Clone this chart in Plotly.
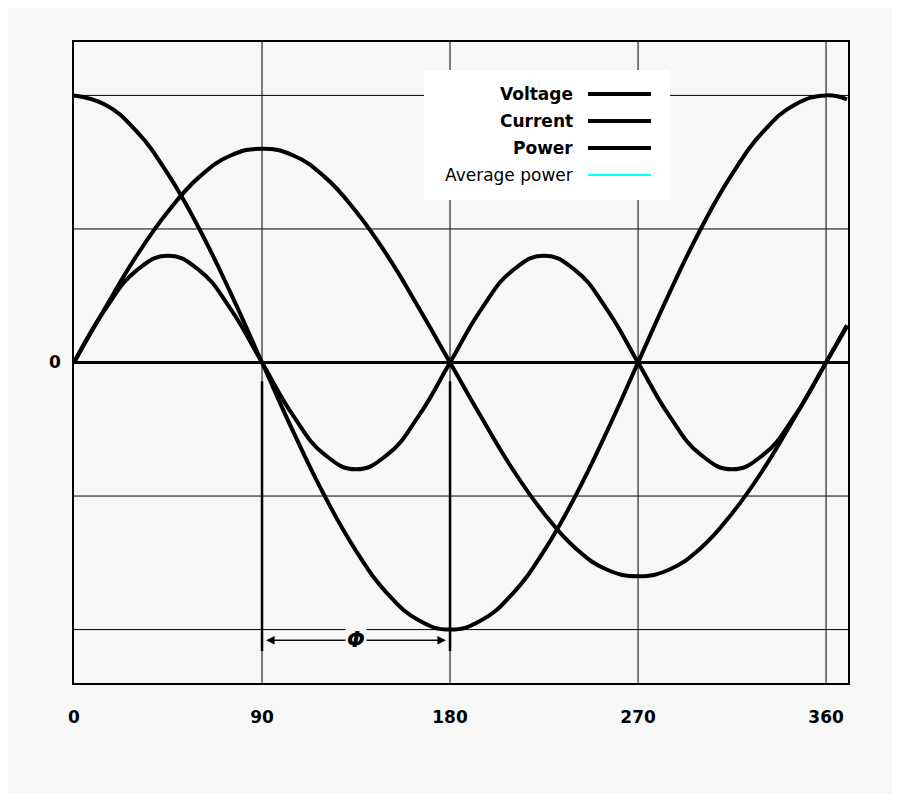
import plotly.graph_objects as go

# angles in degrees (sampled every 15 deg, plus right edge)
angle = list(range(0, 361, 15)) + [370]
voltage = [2, 1.93, 1.73, 1.41, 1.0, 0.52, 0, -0.52, -1, -1.41, -1.73, -1.93, -2,
           -1.93, -1.73, -1.41, -1, -0.52, 0, 0.52, 1, 1.41, 1.73, 1.93, 2, 1.97]
current = [0, 0.41, 0.8, 1.13, 1.39, 1.55, 1.6, 1.55, 1.39, 1.13, 0.8, 0.41, 0,
           -0.41, -0.8, -1.13, -1.39, -1.55, -1.6, -1.55, -1.39, -1.13, -0.8, -0.41, 0, 0.28]
power = [0, 0.4, 0.69, 0.8, 0.69, 0.4, 0, -0.4, -0.69, -0.8, -0.69, -0.4, 0,
         0.4, 0.69, 0.8, 0.69, 0.4, 0, -0.4, -0.69, -0.8, -0.69, -0.4, 0, 0.27]
x_ticks = [0, 90, 180, 270, 360]
y_grid = [-2, -1, 1, 2]
legend_names = ["Voltage", "Current", "Power", "Average power"]
legend_colors = ["black", "black", "black", "cyan"]

fig = go.Figure()
for y in (voltage, current, power):
    fig.add_trace(go.Scatter(x=angle, y=y, mode="lines",
                             line=dict(color="black", width=4, shape="spline", smoothing=1.3),
                             showlegend=False, hoverinfo="skip"))

shapes = []
for g in y_grid:
    shapes.append(dict(type="line", xref="x", yref="y", x0=0, x1=370.5, y0=g, y1=g,
                       line=dict(color="black", width=1), layer="below"))
for t in x_ticks[1:]:
    shapes.append(dict(type="line", xref="x", yref="y", x0=t, x1=t, y0=-2.4, y1=2.4,
                       line=dict(color="black", width=1), layer="below"))
shapes.append(dict(type="line", xref="x", yref="y", x0=0, x1=370.5, y0=0, y1=0,
                   line=dict(color="black", width=3)))
for t in (90, 180):
    shapes.append(dict(type="line", xref="x", yref="y", x0=t, x1=t, y0=-0.14, y1=-2.16,
                       line=dict(color="black", width=2.5)))
# legend box
shapes.append(dict(type="rect", xref="paper", yref="paper", x0=(424-74)/774, x1=(670-74)/774,
                   y0=(683-200)/641, y1=(683-70)/641, fillcolor="white", line=dict(width=0)))

annotations = []
for i, (n, c) in enumerate(zip(legend_names, legend_colors)):
    ypx = 94 + i * 27
    yp = (683 - ypx) / 641
    shapes.append(dict(type="line", xref="paper", yref="paper", x0=(588-74)/774, x1=(651-74)/774,
                       y0=yp, y1=yp, line=dict(color=c, width=4 if c == "black" else 2)))
    annotations.append(dict(xref="paper", yref="paper", x=(575-74)/774, y=yp, xanchor="right",
                            yanchor="middle", showarrow=False,
                            text=("<b>%s</b>" % n) if c == "black" else n,
                            font=dict(size=17, color="black")))

# phase arrow
for a, b in ((92, 178), (178, 92)):
    annotations.append(dict(x=a, y=-2.08, ax=b, ay=-2.08, xref="x", yref="y", axref="x", ayref="y",
                            text="", showarrow=True, arrowhead=2, arrowwidth=1.2, arrowsize=1.4,
                            arrowcolor="black"))
annotations.append(dict(x=135, y=-2.08, xref="x", yref="y", text="<b><i>Φ</i></b>", showarrow=False,
                        bgcolor="#f7f7f7", font=dict(size=21, color="black")))

fig.update_layout(
    width=884, height=786, margin=dict(l=66, r=44, t=34, b=111),
    paper_bgcolor="#f7f7f7", plot_bgcolor="#f7f7f7",
    font=dict(family="DejaVu Sans", size=17, color="black"),
    shapes=shapes, annotations=annotations, showlegend=False,
)
fig.update_xaxes(range=[0, 370.5], tickvals=x_ticks, ticktext=["<b>%d</b>" % t for t in x_ticks],
                 showgrid=False, zeroline=False, showline=True, mirror=True, linecolor="black",
                 linewidth=1.5, ticks="", ticklabelstandoff=18)
fig.update_yaxes(range=[-2.4, 2.4], tickvals=[0], ticktext=["<b>0</b>"], showgrid=False, zeroline=False,
                 showline=True, mirror=True, linecolor="black", linewidth=1.5, ticks="", ticklabelstandoff=8)

fig.write_html("out.html")
